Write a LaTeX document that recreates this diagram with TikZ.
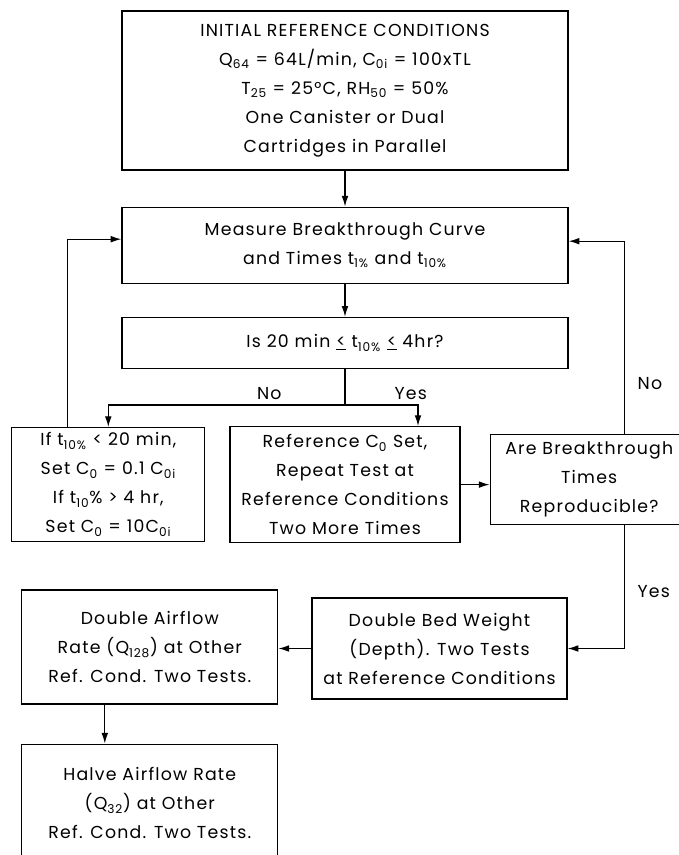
\documentclass[tikz,border=0pt]{standalone}
\usepackage{fontspec}
\setmainfont{Poppins}[LetterSpace=7]
\usetikzlibrary{shapes,arrows,arrows.meta}
\usetikzlibrary{positioning}
\tikzstyle{block} = [draw, rectangle, line width=0.9pt, align=center, inner sep=0pt]
\tikzstyle{line} = [draw, line width=0.9pt, -{Latex[length=8pt,width=5pt]}]

\begin{document}
\begin{tikzpicture}[x=0.75pt, y=-0.75pt, font=\fontsize{13}{21.75}\selectfont]
    \useasboundingbox (0,0) rectangle (678,855);
    \node [block, minimum width=334.5pt, minimum height=119.25pt] (init) at (345,90.5)
        {INITIAL REFERENCE CONDITIONS\\ Q\textsubscript{64} = 64L/min, C\textsubscript{0i} = 100xTL\\
         T\textsubscript{25} = 25°C, RH\textsubscript{50} = 50\%\\ One Canister or Dual\\ Cartridges in Parallel};
    \node [block, below=27pt of init, minimum width=334.5pt, minimum height=57pt] (meas)
        {Measure Breakthrough Curve\\ and Times t\textsubscript{1\%} and t\textsubscript{10\%}};
    \node [block, below=24.75pt of meas, minimum width=334.5pt, minimum height=38.25pt] (is)
        {Is 20 min \underline{<} t\textsubscript{10\%} \underline{<} 4hr?};
    \node [block, below=42.75pt of is, minimum width=172.5pt, minimum height=87pt] (ref)
        {Reference C\textsubscript{0} Set,\\ Repeat Test at\\ Reference Conditions\\ Two More Times};
    \node [block, left=18pt of ref, minimum width=144.75pt, minimum height=85.5pt] (ifbox)
        {If t\textsubscript{10\%} < 20 min,\\ Set C\textsubscript{0} = 0.1 C\textsubscript{0i}\\
         If t\textsubscript{10}\% > 4 hr,\\ Set C\textsubscript{0} = 10C\textsubscript{0i}};
    \node [block, right=21.75pt of ref, yshift=3.75pt, minimum width=148.5pt, minimum height=67.5pt] (are)
        {Are Breakthrough\\ Times\\ Reproducible?};
    \node [block, minimum width=191.25pt, minimum height=75.75pt] (bed) at (439.5,648.5)
        {Double Bed Weight\\ (Depth). Two Tests\\ at Reference Conditions};
    \node [block, left=24.75pt of bed, yshift=1.1pt, minimum width=192pt, minimum height=85.5pt] (air)
        {Double Airflow\\ Rate (Q\textsubscript{128}) at Other\\ Ref. Cond. Two Tests.};
    \node [block, below=29.25pt of air, minimum width=192pt, minimum height=88.5pt] (halve)
        {Halve Airflow Rate\\ (Q\textsubscript{32}) at Other\\ Ref. Cond. Two Tests.};
    \coordinate [below=27pt of is] (br);
    %% Main line
    \path [line] (init) -- (meas);
    \path [line] (meas) -- (is);
    \draw [line width=0.9pt] (is) -- (br);
    \path [line] (br) -| node [pos=0.16, above] {No} (ifbox.north);
    \path [line] (br) -| node [pos=0.45, above] {Yes} ([xshift=54.75pt]ref.north);
    \path [line] (ref.east) -- (ref.east -| are.west);
    %% Loops back
    \path [line] ([xshift=42pt]ifbox.north west) |- ([yshift=4.5pt]meas.west);
    \path [line] ([xshift=101.25pt]are.north west) |- node [pos=0.13, right=6pt] {No} ([yshift=3pt]meas.east);
    %% Further tests
    \path [line] ([xshift=101.25pt]are.south west) |- node [pos=0.27, right=6pt] {Yes} (bed.east);
    \path [line] (bed.west) -- (bed.west -| air.east);
    \path [line] ([xshift=-33.75pt]air.south) -- ([xshift=-33.75pt]halve.north);
\end{tikzpicture}
\end{document}
